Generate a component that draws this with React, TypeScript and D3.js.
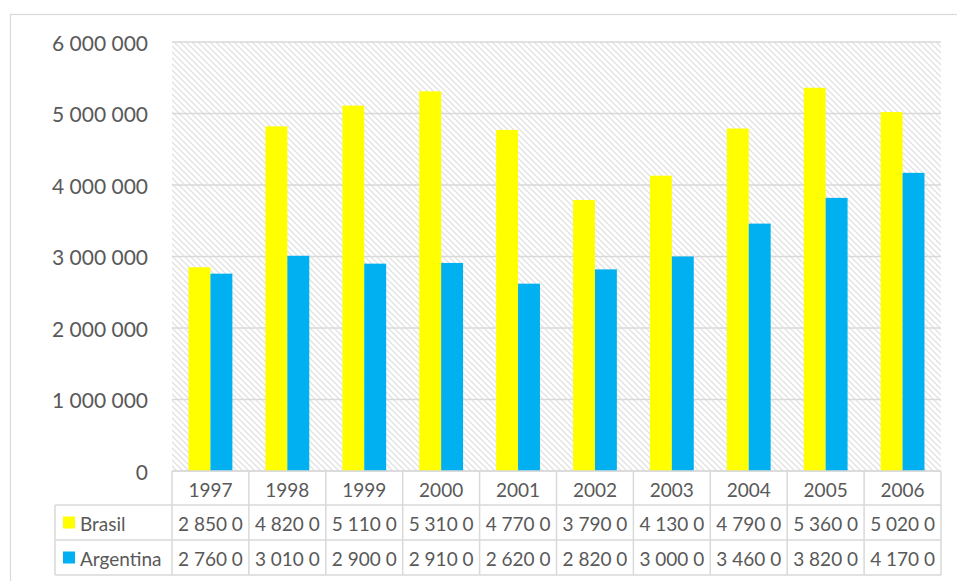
import React from "react";
import * as d3 from "d3";

const years = ["1997", "1998", "1999", "2000", "2001", "2002", "2003", "2004", "2005", "2006"];
const brasil = [2850000, 4820000, 5110000, 5310000, 4770000, 3790000, 4130000, 4790000, 5360000, 5020000];
const argentina = [2760000, 3010000, 2900000, 2910000, 2620000, 2820000, 3000000, 3460000, 3820000, 4170000];
const seriesNames = ["Brasil", "Argentina"];
const seriesColors = ["#FFFF00", "#00B0F0"];
const yTicks = [0, 1000000, 2000000, 3000000, 4000000, 5000000, 6000000];

const W = 957;
const H = 581;
const plot = { left: 172, right: 941, top: 42, bottom: 471 };
const table = { left: 55, rowH: [34, 35, 35] };
const FONT = "Lato, 'Open Sans', sans-serif";
const TXT = "#595959";
const GRID = "#d9d9d9";

export default function App() {
  const series = [brasil, argentina];
  const x = d3.scaleBand<string>().domain(years).range([plot.left, plot.right]).paddingInner(0.43).paddingOuter(0.215);
  const xs = d3.scaleBand<number>().domain([0, 1]).range([0, x.bandwidth()]);
  const y = d3.scaleLinear().domain([0, 6000000]).range([plot.bottom, plot.top]);
  const step = x.step();
  const fmtAxis = (v: number) => d3.format(",")(v).replace(/,/g, " ");
  const fmtCell = (v: number) => fmtAxis(v).slice(0, 7);

  const r0 = plot.bottom;
  const r1 = r0 + table.rowH[0];
  const r2 = r1 + table.rowH[1];
  const r3 = r2 + table.rowH[2];
  const bounds = years.map((_, i) => plot.left + i * step).concat([plot.right]);

  return (
    <svg width={W} height={H} style={{ position: "absolute", left: 0, top: 0, background: "#fff" }}>
      <defs>
        <pattern id="hatch" patternUnits="userSpaceOnUse" width={6} height={6}>
          <rect width={6} height={6} fill="#fff" />
          <path d="M-1,-1 L7,7 M-4,2 L2,8 M4,-2 L8,2" stroke="#e2e2e2" strokeWidth={1.3} />
        </pattern>
      </defs>
      <rect x={10.5} y={14.5} width={960} height={600} fill="#fff" stroke={GRID} strokeWidth={1.2} />
      <rect x={plot.left} y={plot.top} width={plot.right - plot.left} height={plot.bottom - plot.top} fill="url(#hatch)" />
      {yTicks.map((t) => (
        <g key={t}>
          <line x1={plot.left} x2={plot.right} y1={y(t)} y2={y(t)} stroke={GRID} strokeWidth={1.5} />
          <text x={148} y={y(t)} textAnchor="end" dominantBaseline="central" fontFamily={FONT} fontSize={21} fill={TXT}>
            {fmtAxis(t)}
          </text>
        </g>
      ))}
      {series.map((vals, si) =>
        vals.map((v, i) => (
          <rect
            key={`${si}-${i}`}
            x={(x(years[i]) as number) + (xs(si) as number)}
            y={y(v)}
            width={xs.bandwidth()}
            height={y(0) - y(v)}
            fill={seriesColors[si]}
          />
        ))
      )}
      {/* data table */}
      <g stroke={GRID} strokeWidth={1.5} fill="none">
        <line x1={plot.left} x2={plot.right} y1={r0} y2={r0} />
        <line x1={table.left} x2={plot.right} y1={r1} y2={r1} />
        <line x1={table.left} x2={plot.right} y1={r2} y2={r2} />
        <line x1={table.left} x2={plot.right} y1={r3} y2={r3} />
        <line x1={table.left} x2={table.left} y1={r1} y2={r3} />
        {bounds.map((b, i) => (
          <line key={i} x1={b} x2={b} y1={r0} y2={r3} />
        ))}
      </g>
      {years.map((yr, i) => {
        const cx = plot.left + (i + 0.5) * step;
        return (
          <g key={yr} fontFamily={FONT} fontSize={19} fill={TXT} textAnchor="middle">
            <text x={cx} y={(r0 + r1) / 2 + 1} dominantBaseline="central">{yr}</text>
            <text x={cx} y={(r1 + r2) / 2 + 1} dominantBaseline="central">{fmtCell(brasil[i])}</text>
            <text x={cx} y={(r2 + r3) / 2 + 1} dominantBaseline="central">{fmtCell(argentina[i])}</text>
          </g>
        );
      })}
      {seriesNames.map((name, si) => {
        const top = si === 0 ? r1 : r2;
        const bot = si === 0 ? r2 : r3;
        const cy = (top + bot) / 2;
        return (
          <g key={name}>
            <rect x={63} y={cy - 6} width={12} height={12} fill={seriesColors[si]} />
            <text x={80} y={cy + 1} dominantBaseline="central" fontFamily={FONT} fontSize={19} fill={TXT}>
              {name}
            </text>
          </g>
        );
      })}
    </svg>
  );
}
